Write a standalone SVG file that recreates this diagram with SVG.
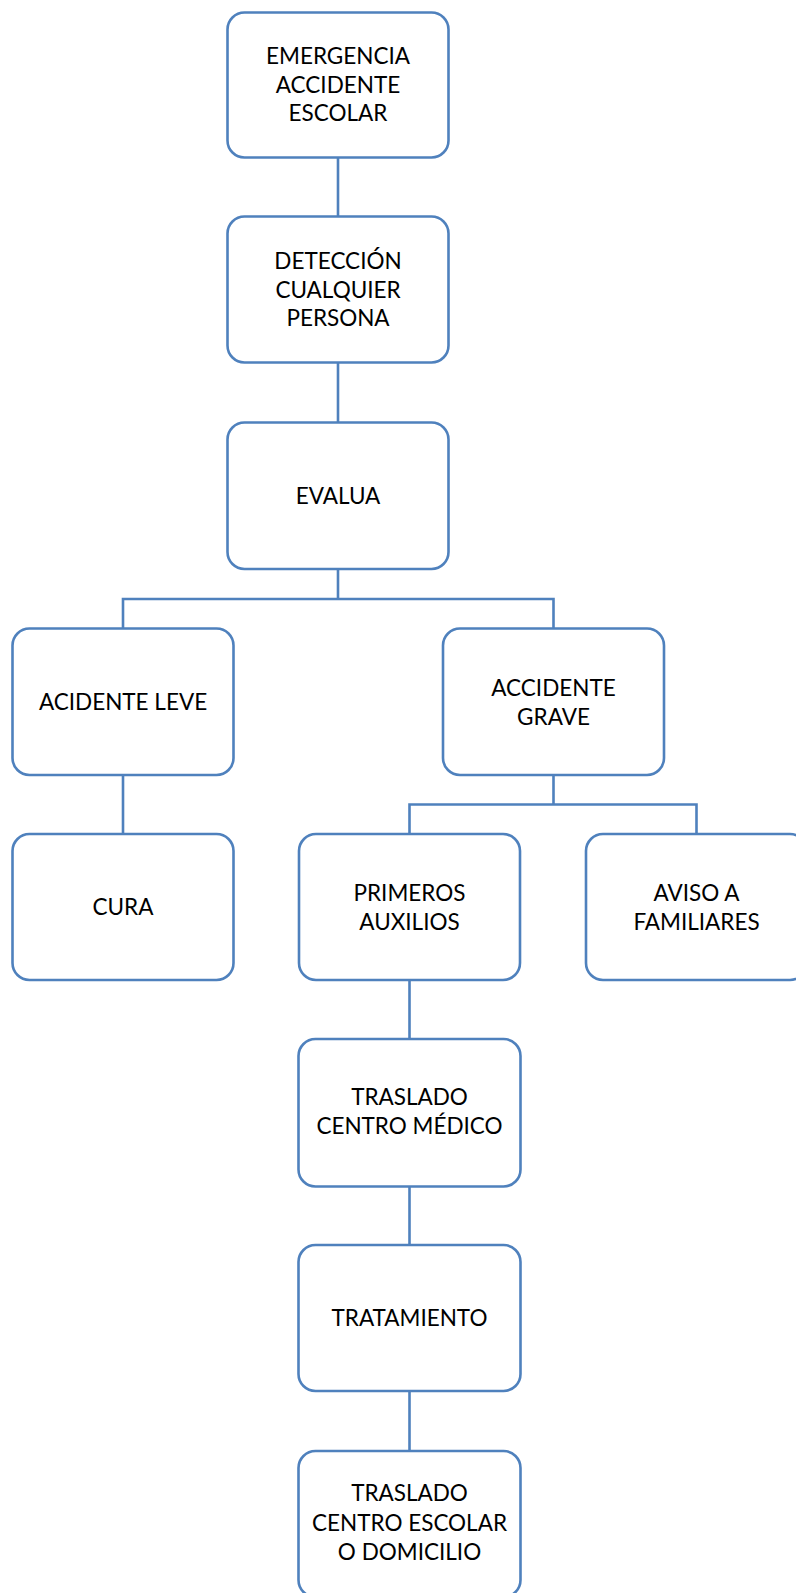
<svg xmlns="http://www.w3.org/2000/svg" width="796" height="1593" viewBox="0 0 796 1593">
<style>
.box{fill:#ffffff;stroke:#4F81BD;stroke-width:2.6}
.con{fill:none;stroke:#4F81BD;stroke-width:2.6}
text{font-family:Lato,"Open Sans","Liberation Sans",sans-serif;font-size:22.5px;fill:#000000;text-anchor:middle}
</style>
<rect width="796" height="1593" fill="#ffffff"/>
<g id="connectors">
<path class="con" d="M338,157.5 V216.5"/>
<path class="con" d="M338,362.5 V422.5"/>
<path class="con" d="M338,569 V599 M123,628.5 V599 H553.5 V628.5"/>
<path class="con" d="M123,775 V834"/>
<path class="con" d="M553.5,775 V804.5 M409.5,834 V804.5 H696.5 V834"/>
<path class="con" d="M409.5,980 V1039"/>
<path class="con" d="M409.5,1186.5 V1245"/>
<path class="con" d="M409.5,1391 V1451"/>
</g>
<g id="n1">
<rect class="box" x="227.5" y="12.5" width="221" height="145" rx="17"/>
<text x="338" y="64"><tspan x="338">EMERGENCIA</tspan><tspan x="338" dy="28.5">ACCIDENTE</tspan><tspan x="338" dy="28.5">ESCOLAR</tspan></text>
</g>
<g id="n2">
<rect class="box" x="227.5" y="216.5" width="221" height="146" rx="17"/>
<text x="338" y="269"><tspan x="338">DETECCIÓN</tspan><tspan x="338" dy="28.5">CUALQUIER</tspan><tspan x="338" dy="28.5">PERSONA</tspan></text>
</g>
<g id="n3">
<rect class="box" x="227.5" y="422.5" width="221" height="146.5" rx="17"/>
<text x="338" y="504">EVALUA</text>
</g>
<g id="n4">
<rect class="box" x="12.5" y="628.5" width="221" height="146.5" rx="17"/>
<text x="123" y="709.5">ACIDENTE LEVE</text>
</g>
<g id="n5">
<rect class="box" x="443" y="628.5" width="221" height="146.5" rx="17"/>
<text x="553.5" y="695.5"><tspan x="553.5">ACCIDENTE</tspan><tspan x="553.5" dy="29">GRAVE</tspan></text>
</g>
<g id="n6">
<rect class="box" x="12.5" y="834" width="221" height="146" rx="17"/>
<text x="123" y="915">CURA</text>
</g>
<g id="n7">
<rect class="box" x="299" y="834" width="221" height="146" rx="17"/>
<text x="409.5" y="900.5"><tspan x="409.5">PRIMEROS</tspan><tspan x="409.5" dy="29">AUXILIOS</tspan></text>
</g>
<g id="n8">
<rect class="box" x="586" y="834" width="221" height="146" rx="17"/>
<text x="696.5" y="900.5"><tspan x="696.5">AVISO A</tspan><tspan x="696.5" dy="29">FAMILIARES</tspan></text>
</g>
<g id="n9">
<rect class="box" x="298.5" y="1039" width="222" height="147.5" rx="17"/>
<text x="409.5" y="1104.5"><tspan x="409.5">TRASLADO</tspan><tspan x="409.5" dy="29.5">CENTRO MÉDICO</tspan></text>
</g>
<g id="n10">
<rect class="box" x="298.5" y="1245" width="222" height="146" rx="17"/>
<text x="409.5" y="1326">TRATAMIENTO</text>
</g>
<g id="n11">
<rect class="box" x="298.5" y="1451" width="222" height="146" rx="17"/>
<text x="409.5" y="1501"><tspan x="409.5">TRASLADO</tspan><tspan x="409.5" dy="29.5">CENTRO ESCOLAR</tspan><tspan x="409.5" dy="29.5">O DOMICILIO</tspan></text>
</g>
</svg>
